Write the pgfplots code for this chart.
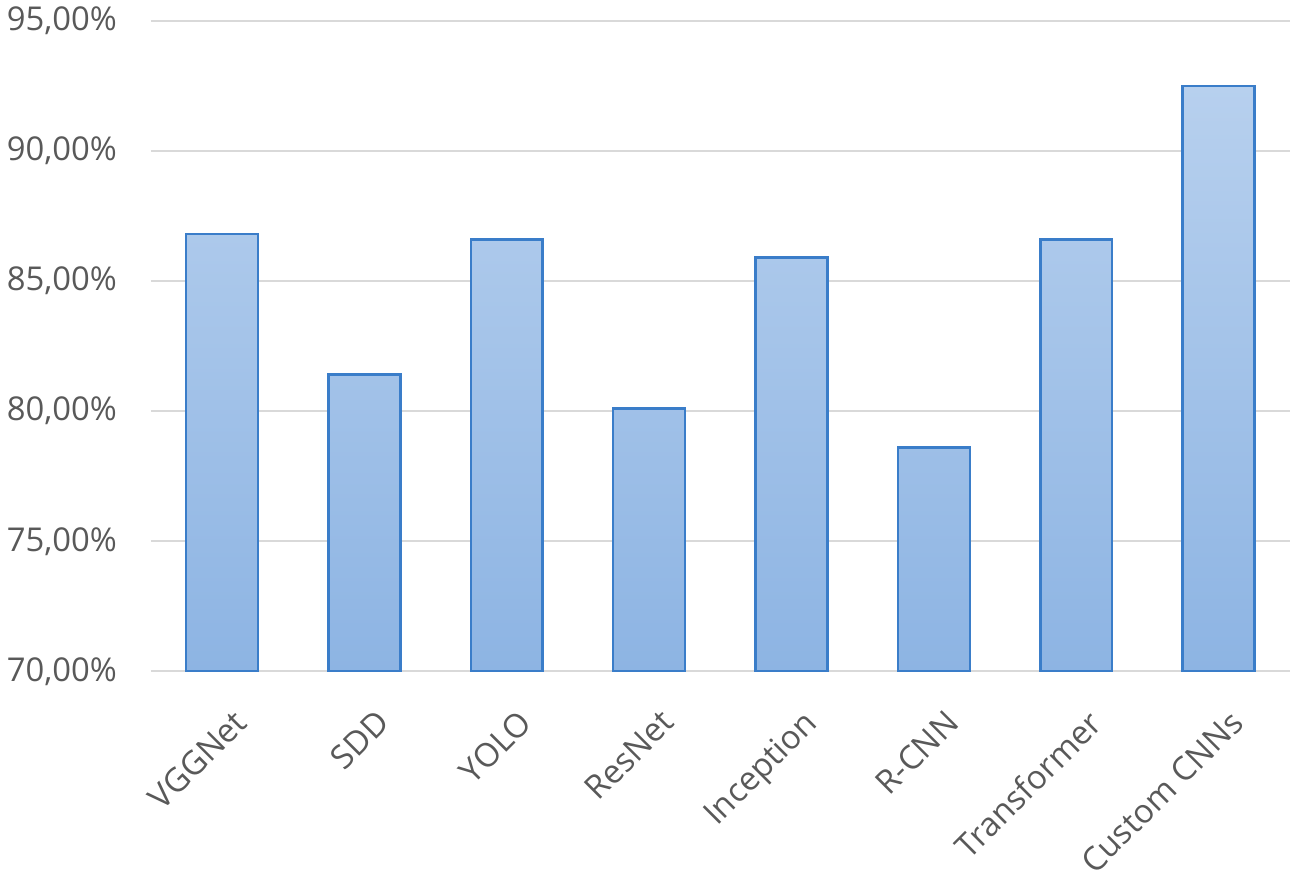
\documentclass[border=0pt]{standalone}
\usepackage{pgfplots}
\pgfplotsset{compat=1.18}
\usepackage{fontspec}
\setmainfont{Open Sans}
\definecolor{txt}{HTML}{595959}
\definecolor{gridc}{HTML}{D9D9D9}
\definecolor{barline}{HTML}{3A7DC9}
\definecolor{bartop}{HTML}{B7D0EE}
\definecolor{barbot}{HTML}{8DB4E3}
\begin{document}
\begin{tikzpicture}
\begin{axis}[
    scale only axis,
    width=555pt, height=317pt,
    ymin=70, ymax=95,
    ytick={70,75,...,95},
    yticklabels={{70,00\%},{75,00\%},{80,00\%},{85,00\%},{90,00\%},{95,00\%}},
    xmin=-0.5, xmax=7.5,
    xtick=data,
    xticklabels={VGGNet,SDD,YOLO,ResNet,Inception,R-CNN,Transformer,Custom CNNs},
    x tick label style={rotate=45, anchor=north east, inner sep=2pt, yshift=-14pt, xshift=-7pt},
    y tick label style={xshift=-13pt},
    ticklabel style={font=\fontsize{16}{19}\selectfont, text=txt},
    /pgf/number format/assume math mode=true,
    axis x line*=bottom,
    axis y line*=left,
    y axis line style={draw=none},
    x axis line style={gridc, line width=1pt, -},
    ymajorgrids,
    grid style={gridc, line width=1pt},
    major tick length=0pt,
    bar width=35pt,
]
\addplot[ybar, draw=barline, line width=1.2pt, top color=bartop, bottom color=barbot]
coordinates {
    (0,86.8)
    (1,81.4)
    (2,86.6)
    (3,80.1)
    (4,85.9)
    (5,78.6)
    (6,86.6)
    (7,92.5)
};
\end{axis}
\path (current axis.east) ++(4.5pt,0);
\end{tikzpicture}
\end{document}
